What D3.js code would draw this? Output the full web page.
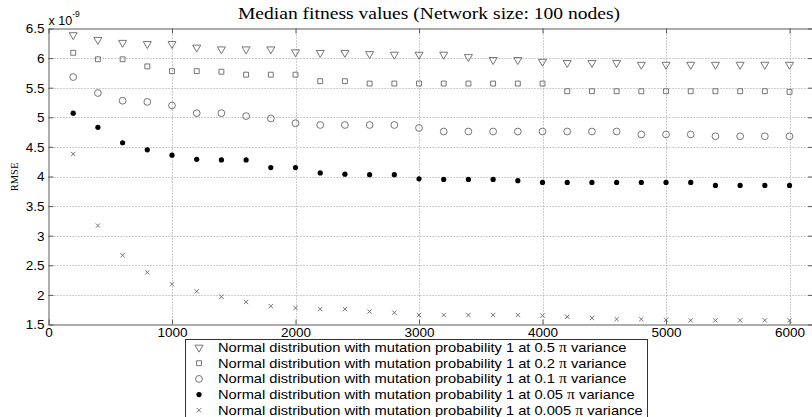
<!DOCTYPE html>
<html><head><meta charset="utf-8">
<script src="https://cdn.jsdelivr.net/npm/d3@7"></script>
<style>
body{margin:0;background:#fff;}
svg{display:block;}
</style></head>
<body><svg id="chart" width="812" height="417"></svg>
<script>
const iterations = [200,400,600,800,1000,1200,1400,1600,1800,2000,2200,2400,2600,2800,3000,3200,3400,3600,3800,4000,4200,4400,4600,4800,5000,5200,5400,5600,5800,6000];
const var05 = [6.39,6.31,6.26,6.24,6.24,6.18,6.15,6.15,6.15,6.10,6.09,6.09,6.07,6.06,6.06,6.06,6.02,5.97,5.97,5.94,5.92,5.92,5.92,5.89,5.89,5.89,5.89,5.89,5.89,5.89];
const var02 = [6.09,5.98,5.98,5.86,5.78,5.78,5.77,5.72,5.72,5.72,5.61,5.61,5.57,5.57,5.57,5.57,5.57,5.57,5.57,5.57,5.44,5.44,5.44,5.44,5.44,5.44,5.44,5.44,5.44,5.43];
const var01 = [5.68,5.41,5.28,5.26,5.20,5.07,5.07,5.02,4.98,4.90,4.87,4.87,4.87,4.87,4.82,4.76,4.76,4.76,4.76,4.76,4.76,4.76,4.76,4.71,4.71,4.71,4.68,4.68,4.68,4.68];
const var005 = [5.07,4.83,4.57,4.45,4.36,4.29,4.28,4.28,4.15,4.15,4.06,4.04,4.03,4.03,3.96,3.95,3.95,3.95,3.93,3.90,3.90,3.90,3.90,3.90,3.90,3.90,3.85,3.85,3.85,3.85];
const var0005 = [4.38,3.17,2.67,2.38,2.18,2.06,1.97,1.88,1.81,1.78,1.76,1.76,1.72,1.70,1.66,1.66,1.66,1.66,1.66,1.65,1.63,1.61,1.59,1.59,1.58,1.57,1.57,1.57,1.57,1.57];
const legendLabels = ["0.5","0.2","0.1","0.05","0.005"];
const xTicks = [0,1000,2000,3000,4000,5000,6000];
const yTicks = [1.5,2,2.5,3,3.5,4,4.5,5,5.5,6,6.5];
const title = "Median fitness values (Network size: 100 nodes)";

const svg = d3.select("#chart");
const L = 48.5, R = 813, T = 28.5, B = 324.5;
const x = d3.scaleLinear().domain([0,6190]).range([L,R]);
const y = d3.scaleLinear().domain([1.5,6.5]).range([B,T]);
const axisCol = "#5a5a5a";
const markCol = "#666";
const fontAx = "'Liberation Sans', Arial, Helvetica, sans-serif";
const fontSerif = "'Liberation Serif', 'Times New Roman', serif";

// grid
const g = svg.append("g");
g.selectAll(".vg").data(xTicks.filter(d=>d>0)).enter().append("line")
  .attr("x1",d=>Math.round(x(d))+0.5).attr("x2",d=>Math.round(x(d))+0.5)
  .attr("y1",T).attr("y2",B).attr("stroke","#9a9a9a").attr("stroke-width",1).attr("stroke-dasharray","1,2");
g.selectAll(".hg").data(yTicks.filter(d=>d>1.5&&d<6.5)).enter().append("line")
  .attr("y1",d=>Math.round(y(d))+0.5).attr("y2",d=>Math.round(y(d))+0.5)
  .attr("x1",L).attr("x2",R).attr("stroke","#9a9a9a").attr("stroke-width",1).attr("stroke-dasharray","1,2");

// axes
const xAxis = d3.axisBottom(x).tickValues(xTicks).tickFormat(d=>String(d)).tickSizeInner(-5).tickSizeOuter(0).tickPadding(3);
const xa = svg.append("g").attr("transform",`translate(0,${B})`).call(xAxis);
const xAxisTop = d3.axisTop(x).tickValues(xTicks).tickFormat("").tickSizeInner(-5).tickSizeOuter(0);
const xt = svg.append("g").attr("transform",`translate(0,${T})`).call(xAxisTop);
const yAxis = d3.axisLeft(y).tickValues(yTicks).tickFormat(d=>String(d)).tickSizeInner(-5).tickSizeOuter(0).tickPadding(4);
const ya = svg.append("g").attr("transform",`translate(${L},0)`).call(yAxis);
const yAxisR = d3.axisRight(y).tickValues(yTicks).tickFormat("").tickSizeInner(-5).tickSizeOuter(0);
const yr = svg.append("g").attr("transform",`translate(${R},0)`).call(yAxisR);
[xa,xt,ya,yr].forEach(a=>{
  a.selectAll("path,line").attr("stroke",axisCol);
  a.selectAll("text").attr("font-family",fontAx).attr("font-size","13.5px").attr("fill","#000");
});

// exponent
const ex = svg.append("text").attr("x",L).attr("y",25).attr("font-family",fontAx).attr("font-size","12.5px").text("x 10");
ex.append("tspan").attr("font-size","8.5px").attr("dy","-8").text("-9");

// title
svg.append("text").attr("x",429).attr("y",19).attr("text-anchor","middle")
  .attr("font-family",fontSerif).attr("font-size","16px")
  .attr("textLength",382).attr("lengthAdjust","spacingAndGlyphs").text(title);

// y label
svg.append("text").attr("transform","translate(17.5,177) rotate(-90)").attr("text-anchor","middle")
  .attr("font-family",fontSerif).attr("font-size","10.5px").text("RMSE");

// markers
const tri = d3.symbol().type(d3.symbolTriangle).size(28)();
const sq = d3.symbol().type(d3.symbolSquare).size(24)();
const cross = d3.symbol().type(d3.symbolX).size(14)();
const series = [var05,var02,var01,var005,var0005];
function addMarker(parent, kind, cx, cy){
  if(kind===0) parent.append("path").attr("d",tri).attr("transform",`translate(${cx},${cy}) rotate(180)`).attr("fill","none").attr("stroke",markCol).attr("stroke-width",0.9);
  else if(kind===1) parent.append("path").attr("d",sq).attr("transform",`translate(${cx},${cy})`).attr("fill","none").attr("stroke",markCol).attr("stroke-width",0.9);
  else if(kind===2) parent.append("circle").attr("cx",cx).attr("cy",cy).attr("r",3.4).attr("fill","none").attr("stroke",markCol).attr("stroke-width",0.9);
  else if(kind===3) parent.append("circle").attr("cx",cx).attr("cy",cy).attr("r",2.6).attr("fill","#000");
  else parent.append("path").attr("d",cross).attr("transform",`translate(${cx},${cy})`).attr("fill","none").attr("stroke",markCol).attr("stroke-width",0.9);
}
const pts = svg.append("g");
series.forEach((s,k)=>{
  s.forEach((v,i)=>addMarker(pts,k,x(iterations[i]),y(v)));
});

// legend
const lg = svg.append("g");
lg.append("rect").attr("x",185.5).attr("y",339.5).attr("width",462).attr("height",90).attr("fill","#fff").attr("stroke","#333").attr("stroke-width",1);
legendLabels.forEach((lab,i)=>{
  const cy = 347.5 + i*15.7;
  addMarker(lg,i,199,cy);
  const t = lg.append("text").attr("transform",`translate(218,${cy+4.5}) scale(1.08,1)`)
    .attr("font-family",fontAx).attr("font-size","13.6px")
    .text(`Normal distribution with mutation probability 1 at ${lab} `);
  t.append("tspan").attr("font-family",fontSerif).attr("font-size","14.5px").text("π");
  t.append("tspan").text(" variance");
});
</script></body></html>
